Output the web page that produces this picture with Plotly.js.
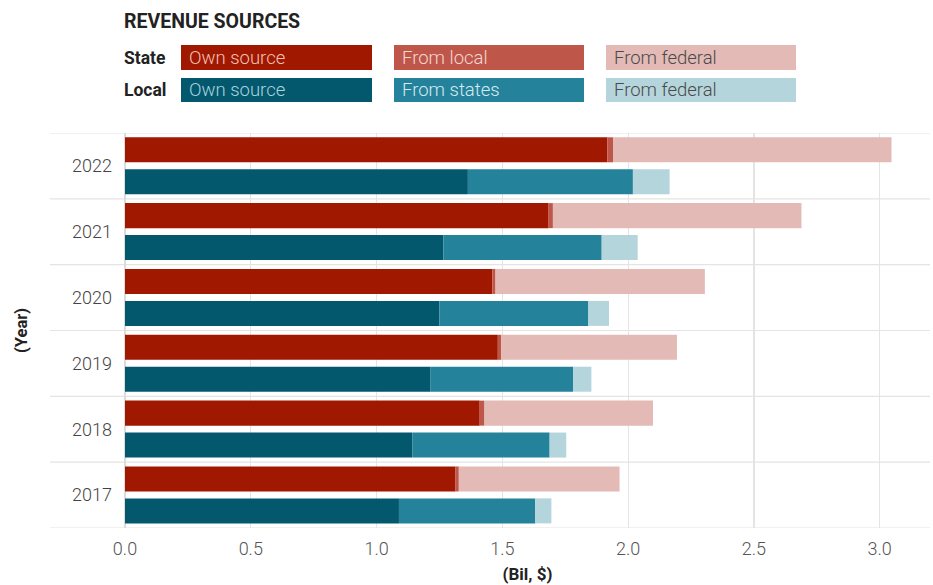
<!DOCTYPE html>
<html>
<head>
<meta charset="utf-8">
<script src="https://cdn.plot.ly/plotly-3.0.1.min.js"></script>
<style>html,body{margin:0;padding:0;background:#fff;}#chart{width:933px;height:585px;}</style>
</head>
<body>
<div id="chart"></div>
<script>
// ---- data ----
const years = ["2017", "2018", "2019", "2020", "2021", "2022"];
const stateOwn     = [1.314, 1.410, 1.482, 1.460, 1.684, 1.917];
const stateLocal   = [0.013, 0.019, 0.014, 0.013, 0.017, 0.023];
const stateFederal = [0.639, 0.670, 0.698, 0.832, 0.988, 1.107];
const localOwn     = [1.089, 1.142, 1.213, 1.250, 1.266, 1.363];
const localStates  = [0.542, 0.546, 0.568, 0.592, 0.629, 0.656];
const localFederal = [0.064, 0.066, 0.073, 0.082, 0.143, 0.146];
const xTicks = [0, 0.5, 1.0, 1.5, 2.0, 2.5, 3.0];
const xTickText = ["0.0", "0.5", "1.0", "1.5", "2.0", "2.5", "3.0"];

const C = {
  sOwn: "#a11800", sLoc: "#bf564a", sFed: "#e3bab5",
  lOwn: "#03586e", lSt: "#25829b", lFed: "#b5d5dc"
};

function add(a, b) { return a.map((v, i) => v + b[i]); }

function barTrace(name, vals, base, color, offset) {
  return {
    type: "bar", orientation: "h", name: name,
    y: years, x: vals, base: base,
    width: 0.38, offset: offset,
    marker: { color: color, line: { width: 0 } },
    hoverinfo: "skip", showlegend: false
  };
}
const zeros = years.map(() => 0);
const sOff = 0.055, lOff = -0.43;
const traces = [
  barTrace("State own", stateOwn, zeros, C.sOwn, sOff),
  barTrace("State from local", stateLocal, stateOwn, C.sLoc, sOff),
  barTrace("State from federal", stateFederal, add(stateOwn, stateLocal), C.sFed, sOff),
  barTrace("Local own", localOwn, zeros, C.lOwn, lOff),
  barTrace("Local from states", localStates, localOwn, C.lSt, lOff),
  barTrace("Local from federal", localFederal, add(localOwn, localStates), C.lFed, lOff)
];

// layout helpers (pixel -> paper)
const W = 933, H = 585, ML = 125, MR = 3, MT = 133, MB = 57;
const PW = W - ML - MR, PH = H - MT - MB;
const px = x => (x - ML) / PW;
const py = y => (H - MB - y) / PH;

const LIGHT = { family: "Roboto", weight: 300 };
const shapes = [];
const annotations = [];
// separator lines between years
for (let i = 0; i <= years.length; i++) {
  shapes.push({ type: "line", xref: "paper", yref: "y", x0: px(50), x1: px(930),
    y0: i - 0.5, y1: i - 0.5, line: { color: "#e4e4e4", width: 1.2 }, layer: "below" });
}
// legend boxes
const legendRows = [
  { label: "State", y0: 45, y1: 70, items: [
    { t: "Own source", c: C.sOwn, tc: "#f2c1b4" },
    { t: "From local", c: C.sLoc, tc: "#f6d8d2" },
    { t: "From federal", c: C.sFed, tc: "#4a4a4a" } ] },
  { label: "Local", y0: 78, y1: 102, items: [
    { t: "Own source", c: C.lOwn, tc: "#a9d3df" },
    { t: "From states", c: C.lSt, tc: "#d4ebf1" },
    { t: "From federal", c: C.lFed, tc: "#4a4a4a" } ] }
];
const boxX = [[181, 372], [394, 584], [606, 796]];
legendRows.forEach(row => {
  annotations.push({ xref: "paper", yref: "paper", x: px(122), y: py((row.y0 + row.y1) / 2),
    xanchor: "left", yanchor: "middle", showarrow: false,
    text: "<b>" + row.label + "</b>", font: { family: "Roboto", size: 17.5, color: "#222" } });
  row.items.forEach((it, j) => {
    shapes.push({ type: "rect", xref: "paper", yref: "paper",
      x0: px(boxX[j][0]), x1: px(boxX[j][1]), y0: py(row.y1), y1: py(row.y0),
      fillcolor: it.c, line: { width: 0 } });
    annotations.push({ xref: "paper", yref: "paper", x: px(boxX[j][0] + 6), y: py((row.y0 + row.y1) / 2),
      xanchor: "left", yanchor: "middle", showarrow: false,
      text: it.t, font: Object.assign({ size: 18.5, color: it.tc }, LIGHT) });
  });
});
annotations.push({ xref: "paper", yref: "paper", x: px(122), y: py(21),
  xanchor: "left", yanchor: "middle", showarrow: false,
  text: "<b>REVENUE SOURCES</b>", font: { family: "Roboto", size: 19.5, color: "#222" } });

const layout = {
  width: W, height: H,
  margin: { l: ML, r: MR, t: MT, b: MB, pad: 0 },
  paper_bgcolor: "#fff", plot_bgcolor: "#fff",
  barmode: "overlay",
  showlegend: false,
  font: { family: "Roboto", color: "#555" },
  xaxis: {
    range: [0, 3.2], tickvals: xTicks, ticktext: xTickText,
    showgrid: true, gridcolor: "#e4e4e4", gridwidth: 1.2,
    zeroline: true, zerolinecolor: "#dcdcdc", zerolinewidth: 1.2,
    showline: false, ticks: "", ticklabelstandoff: 8,
    tickfont: Object.assign({ size: 18, color: "#555" }, LIGHT),
    title: { text: "<b>(Bil, $)</b>", font: { family: "Roboto", size: 17, color: "#222" }, standoff: 10 }
  },
  yaxis: {
    type: "category", categoryorder: "array", categoryarray: years,
    range: [-0.5, years.length - 0.5],
    showgrid: false, zeroline: false, showline: false, ticks: "",
    ticklabelstandoff: 12,
    tickfont: Object.assign({ size: 18, color: "#444" }, LIGHT),
    title: { text: "<b>(Year)</b>", font: { family: "Roboto", size: 16.5, color: "#222" }, standoff: 40 }
  },
  shapes: shapes,
  annotations: annotations
};

Plotly.newPlot("chart", traces, layout, { displayModeBar: false, staticPlot: true });
</script>
</body>
</html>
